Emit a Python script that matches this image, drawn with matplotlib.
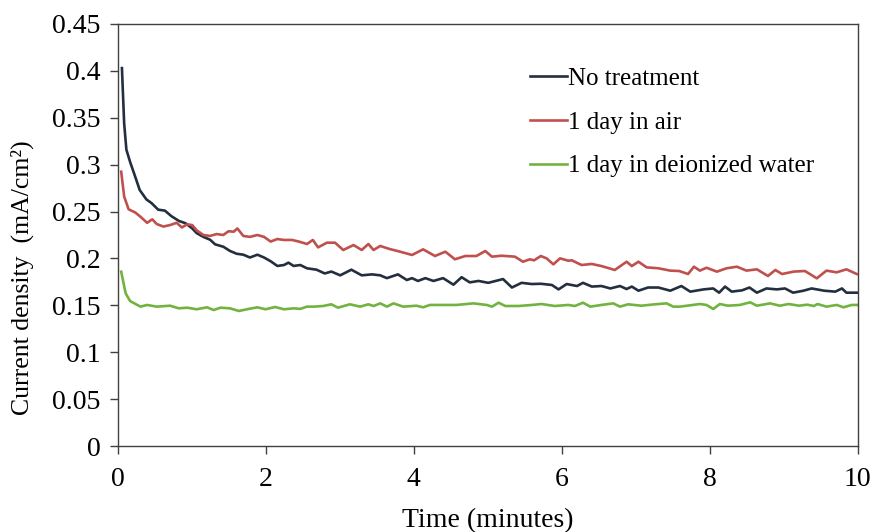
import matplotlib
matplotlib.use("Agg")
import matplotlib.pyplot as plt

# values
t_none = [0.06, 0.07, 0.09, 0.12, 0.17, 0.24, 0.30, 0.39, 0.46, 0.55, 0.64, 0.73, 0.83, 0.92,
          1.01, 1.07, 1.16, 1.25, 1.32, 1.43, 1.52, 1.61, 1.70, 1.79, 1.89, 1.98, 2.07, 2.16,
          2.25, 2.31, 2.38, 2.47, 2.56, 2.69, 2.80, 2.89, 3.01, 3.16, 3.30, 3.44, 3.55, 3.64,
          3.79, 3.91, 3.98, 4.06, 4.16, 4.27, 4.40, 4.54, 4.65, 4.76, 4.88, 5.01, 5.21, 5.33,
          5.46, 5.60, 5.72, 5.87, 5.96, 6.07, 6.21, 6.29, 6.41, 6.54, 6.66, 6.79, 6.88, 6.95,
          7.04, 7.17, 7.31, 7.47, 7.62, 7.74, 7.92, 8.05, 8.13, 8.21, 8.30, 8.44, 8.54, 8.64,
          8.77, 8.91, 9.02, 9.13, 9.27, 9.38, 9.55, 9.70, 9.79, 9.85, 9.99]
j_none = [0.403, 0.383, 0.344, 0.316, 0.303, 0.287, 0.273, 0.263, 0.259, 0.252, 0.251, 0.245,
          0.240, 0.2375, 0.232, 0.227, 0.223, 0.220, 0.215, 0.2125, 0.208, 0.205, 0.204, 0.201,
          0.204, 0.201, 0.197, 0.192, 0.193, 0.1955, 0.192, 0.193, 0.1895, 0.188, 0.184, 0.186,
          0.182, 0.188, 0.182, 0.183, 0.182, 0.179, 0.183, 0.177, 0.179, 0.176, 0.179, 0.176,
          0.179, 0.172, 0.180, 0.1745, 0.176, 0.174, 0.178, 0.169, 0.174, 0.1727, 0.173,
          0.1717, 0.167, 0.1727, 0.1706, 0.174, 0.170, 0.1706, 0.168, 0.1706, 0.1674, 0.170,
          0.1656, 0.169, 0.169, 0.1656, 0.1706, 0.1646, 0.167, 0.168, 0.1635, 0.170, 0.1646,
          0.166, 0.169, 0.1635, 0.168, 0.167, 0.168, 0.1635, 0.1656, 0.168, 0.1656, 0.1646,
          0.168, 0.1635, 0.1635]

t_air = [0.05, 0.09, 0.15, 0.24, 0.31, 0.40, 0.47, 0.53, 0.62, 0.71, 0.80, 0.87, 0.94, 1.01,
         1.07, 1.16, 1.25, 1.34, 1.43, 1.50, 1.57, 1.62, 1.70, 1.79, 1.89, 1.98, 2.07, 2.16,
         2.25, 2.36, 2.45, 2.56, 2.64, 2.71, 2.83, 2.94, 3.05, 3.19, 3.30, 3.39, 3.46, 3.55,
         3.68, 3.82, 3.98, 4.13, 4.29, 4.43, 4.56, 4.70, 4.85, 4.97, 5.06, 5.19, 5.37, 5.48,
         5.57, 5.63, 5.72, 5.80, 5.89, 5.98, 6.09, 6.14, 6.27, 6.41, 6.54, 6.72, 6.88, 6.95,
         7.04, 7.15, 7.31, 7.47, 7.59, 7.71, 7.79, 7.87, 7.96, 8.10, 8.23, 8.37, 8.50, 8.64,
         8.79, 8.89, 8.98, 9.14, 9.29, 9.45, 9.58, 9.72, 9.85, 9.99]
j_air = [0.2925, 0.266, 0.2524, 0.249, 0.2445, 0.238, 0.2417, 0.2367, 0.234, 0.2356, 0.238,
         0.233, 0.2364, 0.2356, 0.230, 0.225, 0.224, 0.226, 0.225, 0.229, 0.2285, 0.232, 0.224,
         0.223, 0.225, 0.223, 0.218, 0.2207, 0.2197, 0.2197, 0.218, 0.2154, 0.2197, 0.2118,
         0.2168, 0.2168, 0.209, 0.2143, 0.209, 0.2154, 0.209, 0.2133, 0.210, 0.2072, 0.2037,
         0.2097, 0.2026, 0.2072, 0.1991, 0.2026, 0.2026, 0.2079, 0.2019, 0.2029, 0.2019,
         0.1965, 0.1991, 0.198, 0.2026, 0.200, 0.1937, 0.2001, 0.1976, 0.198, 0.193, 0.1941,
         0.1919, 0.1877, 0.1965, 0.1919, 0.1965, 0.1905, 0.1895, 0.187, 0.1866, 0.1834, 0.1912,
         0.187, 0.1901, 0.1859, 0.1895, 0.1912, 0.187, 0.1884, 0.1813, 0.1877, 0.1834, 0.186,
         0.1866, 0.1788, 0.187, 0.1852, 0.1884, 0.1834]

t_water = [0.05, 0.11, 0.17, 0.31, 0.40, 0.53, 0.71, 0.83, 0.94, 1.07, 1.21, 1.30, 1.39, 1.52,
           1.64, 1.75, 1.89, 2.00, 2.13, 2.25, 2.38, 2.47, 2.56, 2.65, 2.78, 2.89, 2.98, 3.14,
           3.28, 3.39, 3.46, 3.55, 3.64, 3.73, 3.86, 4.04, 4.13, 4.22, 4.40, 4.58, 4.81, 4.99,
           5.06, 5.15, 5.24, 5.42, 5.60, 5.73, 5.91, 6.09, 6.18, 6.29, 6.39, 6.54, 6.70, 6.79,
           6.90, 7.08, 7.26, 7.42, 7.51, 7.60, 7.87, 7.96, 8.05, 8.14, 8.25, 8.41, 8.55, 8.64,
           8.82, 8.95, 9.07, 9.21, 9.32, 9.41, 9.46, 9.58, 9.72, 9.81, 9.92, 10.0]
j_water = [0.1859, 0.1628, 0.1546, 0.1486, 0.1504, 0.1486, 0.1496, 0.1468, 0.1475, 0.1458,
           0.1479, 0.145, 0.1475, 0.1468, 0.144, 0.1458, 0.1479, 0.1458, 0.1482, 0.1458,
           0.1468, 0.1462, 0.1486, 0.1486, 0.1493, 0.1511, 0.1475, 0.1511, 0.1486, 0.1511,
           0.1493, 0.1521, 0.1486, 0.1521, 0.1486, 0.1496, 0.1479, 0.1504, 0.1504, 0.1504,
           0.1521, 0.1504, 0.1486, 0.1528, 0.1493, 0.1493, 0.1504, 0.1514, 0.1493, 0.1504,
           0.1493, 0.1528, 0.1486, 0.1504, 0.1521, 0.1486, 0.1511, 0.1496, 0.1511, 0.1521,
           0.1486, 0.1486, 0.1514, 0.1504, 0.1461, 0.1514, 0.1496, 0.1504, 0.1532, 0.1496,
           0.1521, 0.1496, 0.1514, 0.1496, 0.1507, 0.1493, 0.1514, 0.1486, 0.1504, 0.1479,
           0.1504, 0.1504]

labels = ["No treatment", "1 day in air", "1 day in deionized water"]
colors = ["#232f3f", "#c0504d", "#72b340"]

x_ticks = [0, 2, 4, 6, 8, 10]
y_ticks = [0, 0.05, 0.1, 0.15, 0.2, 0.25, 0.3, 0.35, 0.4, 0.45]
y_tick_labels = ["0", "0.05", "0.1", "0.15", "0.2", "0.25", "0.3", "0.35", "0.4", "0.45"]

plt.rcParams["font.family"] = ["Liberation Serif", "DejaVu Serif"]

fig = plt.figure(figsize=(8.72, 5.32), dpi=100)
ax = fig.add_axes([117.5 / 872, 86 / 532, 740 / 872, 422 / 532])

series = [(t_none, j_none), (t_air, j_air), (t_water, j_water)]
for (t, j), lab, col in zip(series, labels, colors):
    ax.plot(t, j, color=col, lw=1.9, label=lab, solid_joinstyle="round")

ax.set_xlim(0, 10)
ax.set_ylim(0, 0.45)
ax.set_xticks(x_ticks)
ax.set_xticklabels([str(v) for v in x_ticks])
ax.set_yticks(y_ticks)
ax.set_yticklabels(y_tick_labels)
ax.tick_params(direction="out", length=6, width=1, color="#404040",
               labelsize=20, labelcolor="black", pad=6)
ax.tick_params(axis="x", pad=9)
for s in ax.spines.values():
    s.set_color("#404040")
    s.set_linewidth(1)

ax.set_xlabel("Time (minutes)", fontsize=20, labelpad=12)
ax.set_ylabel("Current density  (mA/cm\u00b2)", fontsize=18.5, labelpad=10)
ax.yaxis.set_label_coords(-0.113, 0.40)

ax.legend(loc="upper left", bbox_to_anchor=(0.557, 0.897), frameon=False,
          fontsize=18, handlelength=1.5, handletextpad=0.05, labelspacing=0.85,
          borderpad=0, borderaxespad=0)

fig.savefig("out.png", dpi=100)
